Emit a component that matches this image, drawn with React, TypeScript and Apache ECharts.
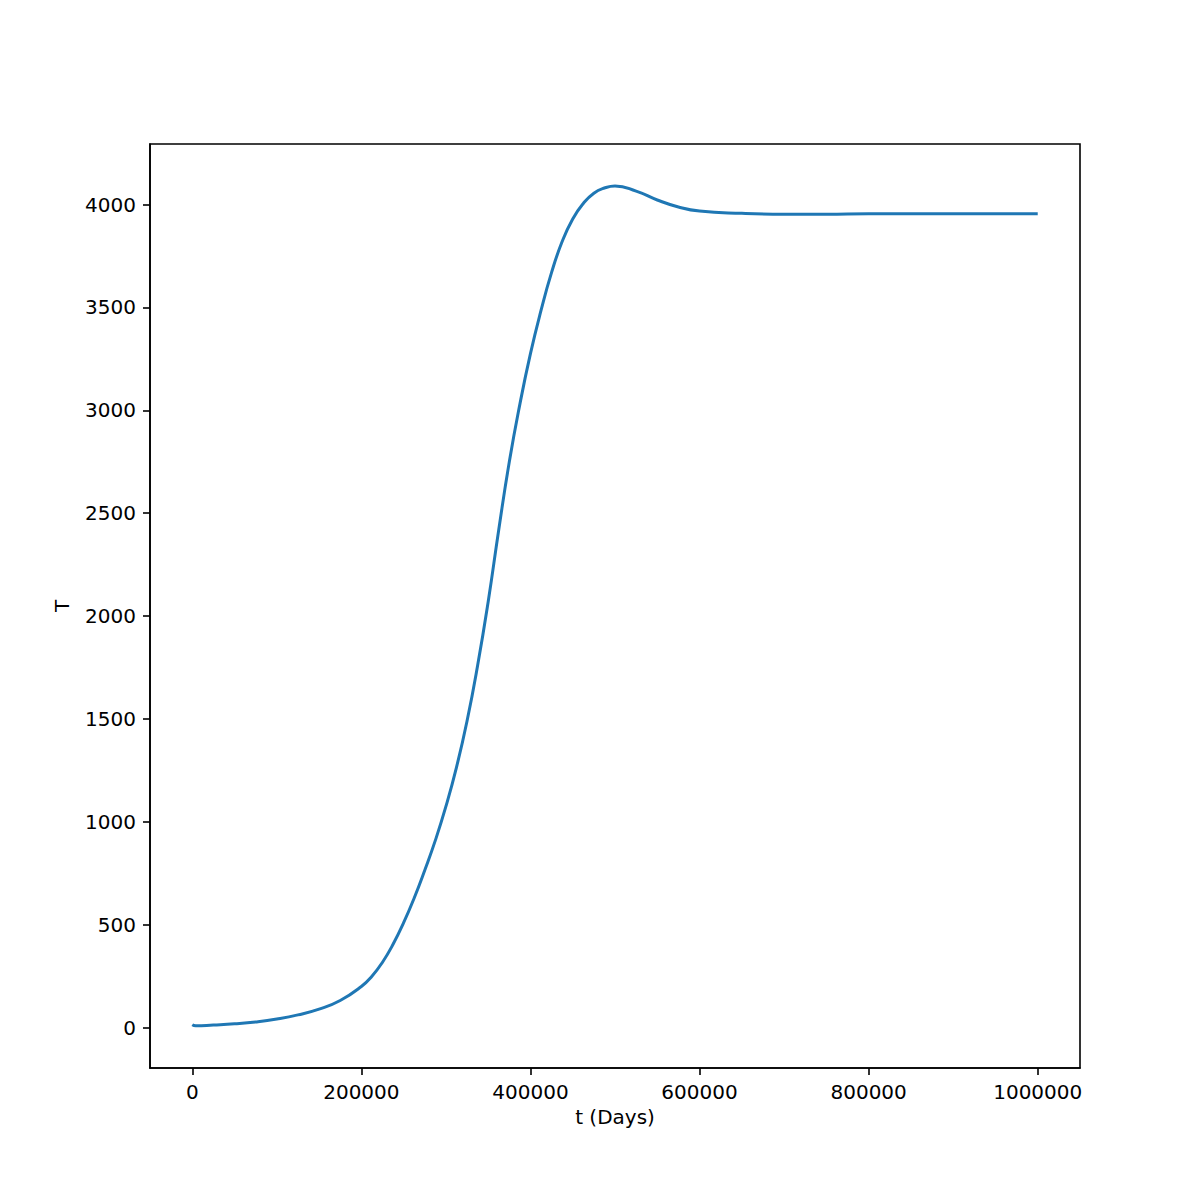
import React, { useEffect, useRef } from "react";
import * as echarts from "echarts";

const tDays = [
  0, 4000, 25000, 50000, 75000, 100000, 125000, 150000, 175000, 200000,
  212500, 225000, 237500, 250000, 262500, 275000, 287500, 300000, 312500,
  325000, 337500, 350000, 362500, 375000, 387500, 400000, 412500, 425000,
  437500, 450000, 462500, 475000, 487500, 500000, 525000, 550000, 575000,
  600000, 650000, 700000, 750000, 800000, 900000, 1000000,
];
const Tvalues = [
  14, 9, 13, 19, 28, 42, 62, 90, 132, 200,
  250, 318, 405, 510, 630, 765, 910, 1075, 1265,
  1490, 1760, 2070, 2420, 2750, 3030, 3275, 3485, 3670,
  3820, 3930, 4005, 4055, 4080, 4090, 4065, 4022, 3988,
  3968, 3957, 3953, 3953, 3955, 3955, 3955,
];
const xTicks = [0, 200000, 400000, 600000, 800000, 1000000];
const yTicks = [0, 500, 1000, 1500, 2000, 2500, 3000, 3500, 4000];

const FONT = "DejaVu Sans";

export default function App() {
  const ref = useRef<HTMLDivElement>(null);
  useEffect(() => {
    if (!ref.current) return;
    const chart = echarts.init(ref.current, null, { renderer: "svg" });
    const data = tDays.map((t, i) => [t, Tvalues[i]]);
    chart.setOption({
      animation: false,
      backgroundColor: "#ffffff",
      grid: {
        left: 150,
        right: 120,
        top: 144,
        bottom: 132,
        show: true,
        borderColor: "#000000",
        borderWidth: 1.6,
        backgroundColor: "transparent",
      },
      xAxis: {
        type: "value",
        min: -50000,
        max: 1050000,
        name: "t (Days)",
        nameLocation: "middle",
        nameGap: 39,
        nameTextStyle: { color: "#000", fontSize: 20, fontFamily: FONT },
        splitLine: { show: false },
        axisLine: { show: true, onZero: false, lineStyle: { color: "#000", width: 1.6 } },
        axisTick: {
          show: true,
          length: 7,
          lineStyle: { color: "#000", width: 1.6 },
          customValues: xTicks,
        },
        axisLabel: {
          color: "#000",
          fontSize: 20,
          fontFamily: FONT,
          margin: 14,
          customValues: xTicks,
          formatter: (v: number) => String(v),
        },
      },
      yAxis: {
        type: "value",
        min: -196,
        max: 4294,
        name: "T",
        nameLocation: "middle",
        nameGap: 78,
        nameRotate: 90,
        nameTextStyle: { color: "#000", fontSize: 20, fontFamily: FONT },
        splitLine: { show: false },
        axisLine: { show: true, onZero: false, lineStyle: { color: "#000", width: 1.6 } },
        axisTick: {
          show: true,
          length: 7,
          lineStyle: { color: "#000", width: 1.6 },
          customValues: yTicks,
        },
        axisLabel: {
          color: "#000",
          fontSize: 20,
          fontFamily: FONT,
          margin: 14,
          customValues: yTicks,
          formatter: (v: number) => String(v),
        },
      },
      series: [
        {
          type: "line",
          data,
          smooth: 0.5,
          showSymbol: false,
          lineStyle: { color: "#1f77b4", width: 3 },
          itemStyle: { color: "#1f77b4" },
        },
      ],
    });
    return () => chart.dispose();
  }, []);
  return (
    <div
      ref={ref}
      style={{ position: "absolute", left: 0, top: 0, width: 1200, height: 1200 }}
    />
  );
}
